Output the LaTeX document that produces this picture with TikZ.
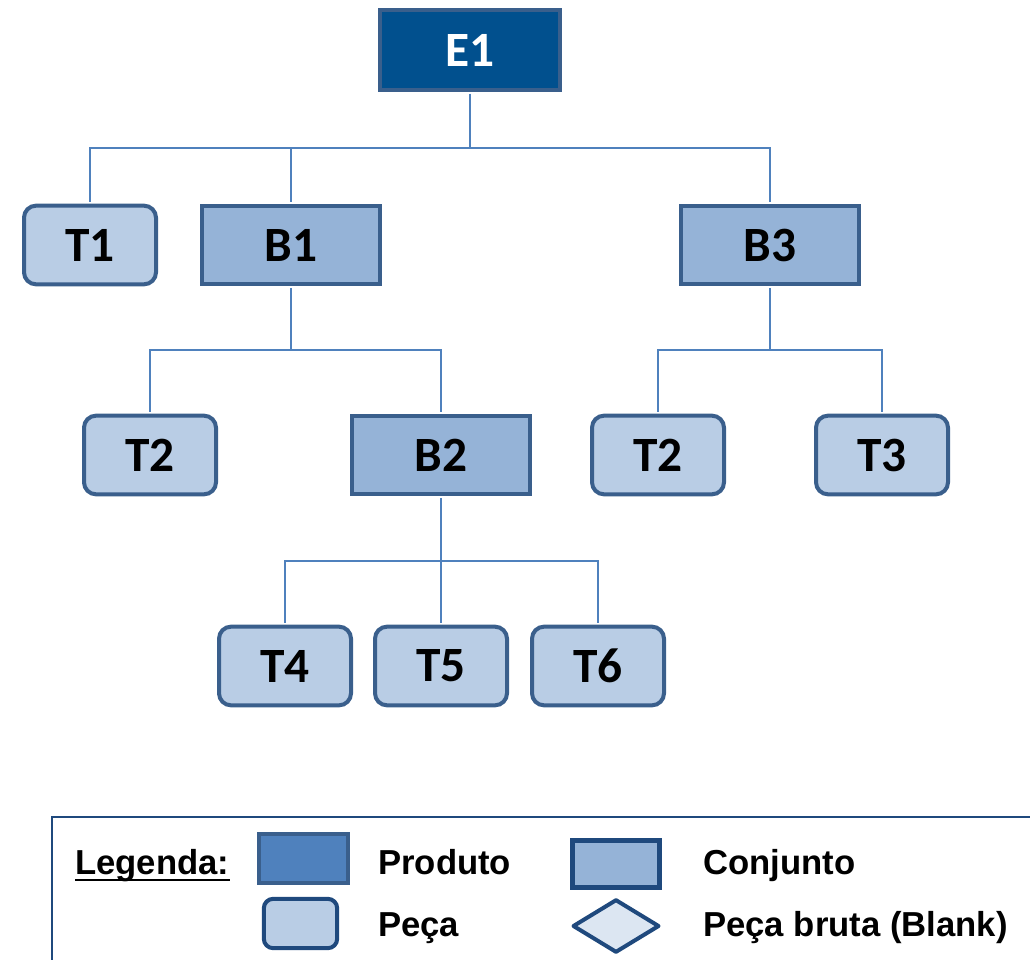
\documentclass[tikz,border=0pt]{standalone}
\usepackage{fontspec}
\setmainfont{Liberation Sans}
\newfontfamily\boxfont{Carlito}
\usetikzlibrary{calc,shapes.geometric}

\definecolor{prodfill}{HTML}{01508E}
\definecolor{edgeblue}{HTML}{3A5F8C}
\definecolor{darkedge}{HTML}{1F497D}
\definecolor{conjfill}{HTML}{95B3D7}
\definecolor{pecafill}{HTML}{B9CDE5}
\definecolor{blankfill}{HTML}{DCE6F2}
\definecolor{linkblue}{HTML}{4F81BD}

\begin{document}
\begin{tikzpicture}[x=0.75pt, y=-0.75pt,
    box/.style={draw=edgeblue, line width=3pt, minimum width=99pt, minimum height=59pt,
        inner sep=0pt, font=\boxfont\bfseries\fontsize{37}{40}\selectfont},
    peca/.style={box, fill=pecafill, rounded corners=9pt},
    conj/.style={box, fill=conjfill, minimum width=133.5pt},
    prod/.style={conj, fill=prodfill, text=white, minimum width=135pt, minimum height=60pt},
    link/.style={draw=linkblue, line width=1.5pt, shorten <=1.5pt, shorten >=1.5pt},
    bus/.style={to path={-- ($(\tikztostart)!0.5!(\tikztostart|-\tikztotarget)$) -| (\tikztotarget)}},
    legtext/.style={font=\bfseries\fontsize{26}{30}\selectfont, anchor=base west, inner sep=0pt}]
    \clip (0,0) rectangle (1030,959);

    % tree
    \node[prod] (e1) at (470,50) {E1};
    \node[peca] (t1) at (90,245) {T1};
    \node[conj] (b1) at (291,245) {B1};
    \node[conj] (b3) at (770,245) {B3};
    \node[peca] (t2) at (150,455) {T2};
    \node[conj] (b2) at (441,455) {B2};
    \node[peca] (t2b) at (658,455) {T2};
    \node[peca] (t3) at (882,455) {T3};
    \node[peca] (t4) at (285,666) {T4};
    \node[peca] (t5) at (441,666) {T5};
    \node[peca] (t6) at (598,666) {T6};

    \foreach \p/\c in {e1/t1, e1/b1, e1/b3, b1/t2, b1/b2, b3/t2b, b3/t3, b2/t4, b2/t5, b2/t6}
        \draw[link] (\p.south) to[bus] (\c.north);

    % legend
    \draw[darkedge, line width=1.5pt] (52,817) rectangle (1045,975);
    \node[legtext] (leg) at (75,874) {Legenda:};
    \draw[line width=2.2pt] ([yshift=-4.5pt]leg.base west) -- ([yshift=-4.5pt]leg.base east);

    \node[draw=edgeblue, fill=linkblue, line width=3pt, minimum width=66.5pt, minimum height=36.5pt] (kprod) at (303.5,858.5) {};
    \node[draw=darkedge, fill=conjfill, line width=3.75pt, minimum width=65pt, minimum height=35pt] (kconj) at (616,864) {};
    \node[draw=darkedge, fill=pecafill, line width=3pt, rounded corners=7pt, minimum width=55pt, minimum height=37pt] (kpeca) at (300.5,923.5) {};
    \node[diamond, draw=darkedge, fill=blankfill, line width=3pt, line join=round, inner sep=0pt,
        minimum width=65pt, minimum height=40pt] (kblank) at (616,926) {};

    \node[legtext] (lprod) at (378,874) {Produto};
    \node[legtext] (lconj) at (703,874) {Conjunto};
    \node[legtext] (lpeca) at (378,936) {Peça};
    \node[legtext] (lblank) at (703,936) {Peça bruta (Blank)};
\end{tikzpicture}
\end{document}
